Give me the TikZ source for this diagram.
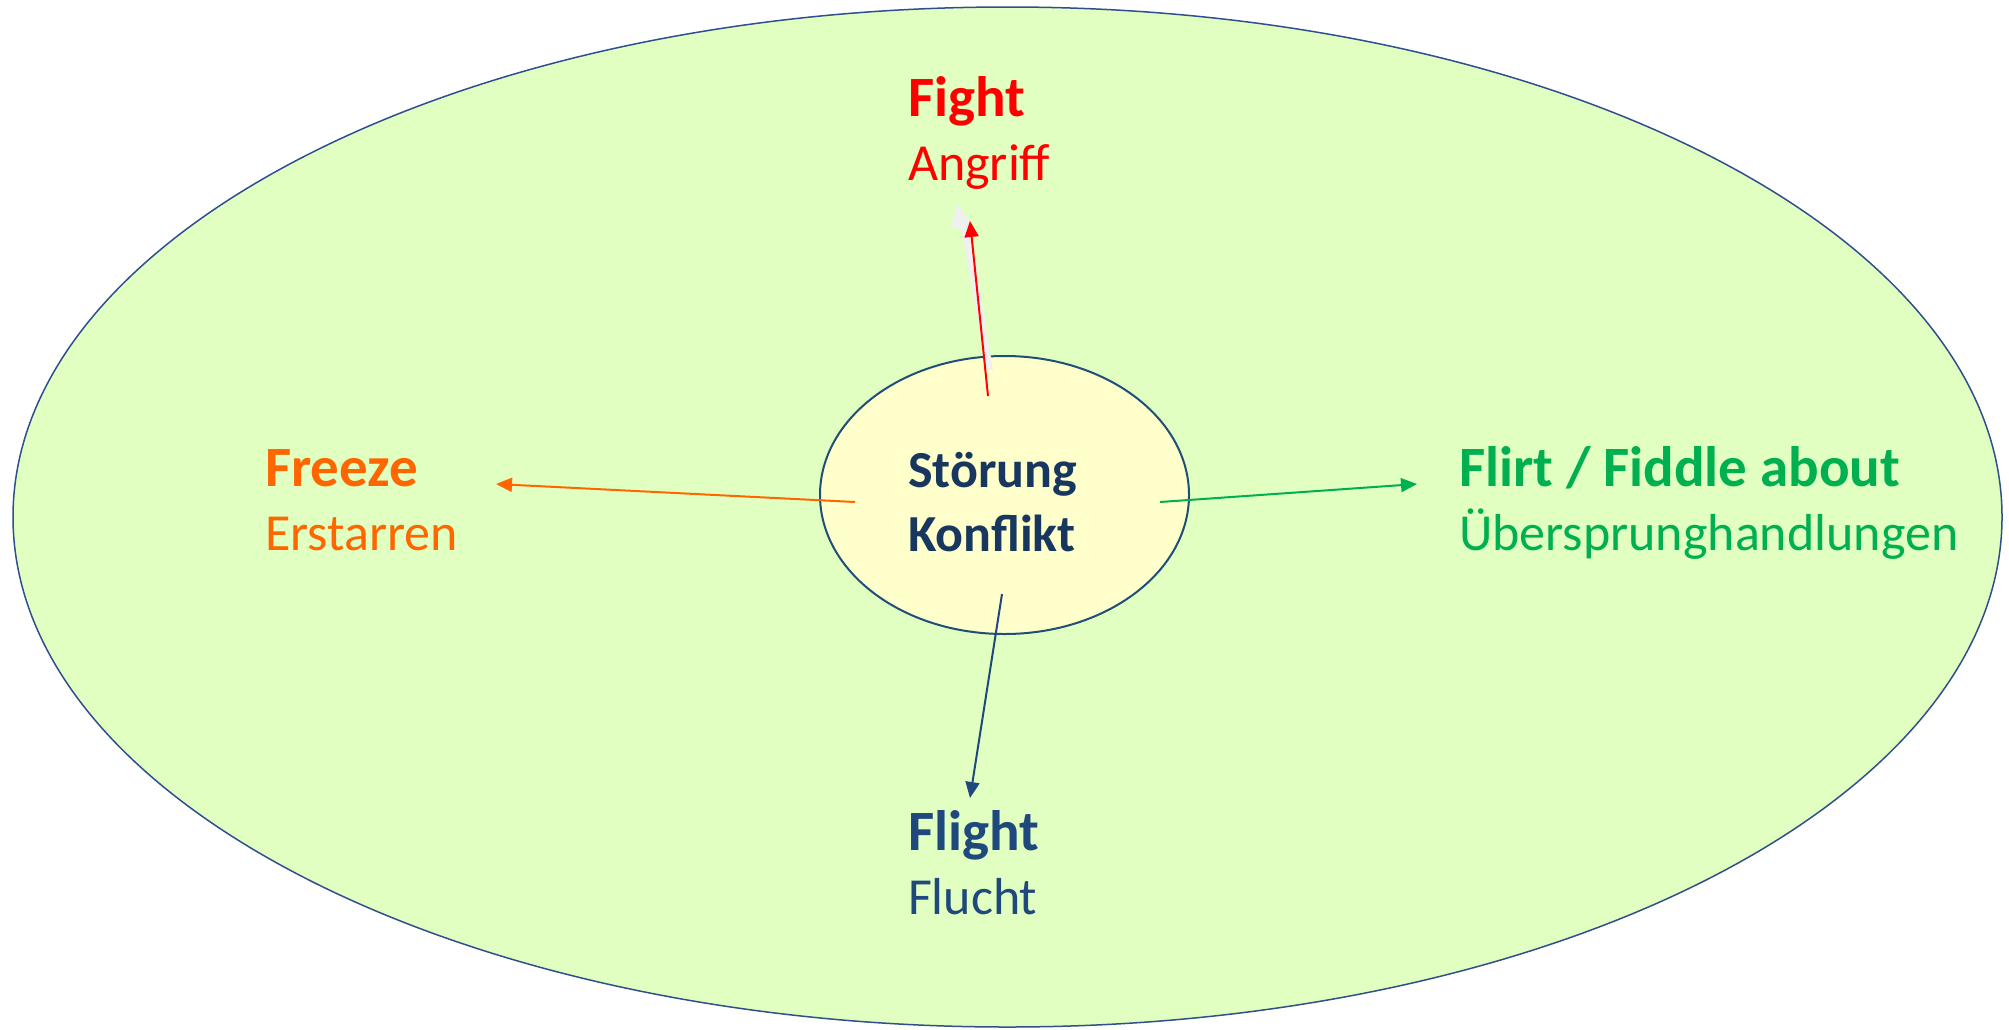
\documentclass[tikz,border=0pt]{standalone}
\usepackage{fontspec}
\setmainfont{Carlito}
\usetikzlibrary{arrows.meta,shapes.geometric}
\definecolor{outerfill}{HTML}{E0FFC0}
\definecolor{outerline}{HTML}{2F4F8F}
\definecolor{innerfill}{HTML}{FFFFCC}
\definecolor{innerline}{HTML}{1F4E79}
\definecolor{cfight}{HTML}{FF0000}
\definecolor{cfreeze}{HTML}{FF6600}
\definecolor{cflirt}{HTML}{00B050}
\definecolor{cflight}{HTML}{1F497D}
\definecolor{ccenter}{HTML}{17375E}
\definecolor{shadowgray}{HTML}{F0F0F0}
\tikzset{
  lbl/.style={anchor=base west, inner sep=0pt, outer sep=0pt, font=\fontsize{52}{62}\selectfont},
  lblb/.style={lbl, font=\fontsize{57}{66}\selectfont\bfseries},
  ctr/.style={anchor=base west, inner sep=0pt, outer sep=0pt, font=\fontsize{52}{62}\selectfont\bfseries, text=ccenter},
  arr/.style={line width=2pt, -{Triangle[length=16pt,width=14pt]}}
}
\begin{document}
\begin{tikzpicture}[x=1pt,y=-1pt]
\useasboundingbox (0,0) rectangle (2009,1029);
% outer ellipse
\node[draw=outerline, fill=outerfill, line width=1.5pt, ellipse, inner sep=0pt,
  minimum width=1989pt, minimum height=1020pt] (outer) at (1007.5,517) {};
% inner ellipse
\node[draw=innerline, fill=innerfill, line width=2pt, ellipse, inner sep=0pt,
  minimum width=369pt, minimum height=278pt] (inner) at (1004.5,495) {};
% center text
\node[ctr] (stoerung) at (908,487) {Störung};
\node[ctr] (konflikt) at (908,551) {Konflikt};
% labels
\node[lblb, text=cfight] (fight) at (908,116) {Fight};
\node[lbl, text=cfight] (angriff) at (908,180) {Angriff};
\node[lblb, text=cfreeze] (freeze) at (265,486) {Freeze};
\node[lbl, text=cfreeze] (erstarren) at (265,550) {Erstarren};
\node[lblb, text=cflirt] (flirt) at (1459,486) {Flirt / Fiddle about};
\node[lbl, text=cflirt] (ueber) at (1459,550) {Übersprunghandlungen};
\node[lblb, text=cflight] (flight) at (908,850) {Flight};
\node[lbl, text=cflight] (flucht) at (908,914) {Flucht};
% connector endpoints
\coordinate (fightS) at (988,396);
\coordinate (fightE) at (970,221);
\coordinate (freezeS) at (855,502);
\coordinate (freezeE) at (496,484);
\coordinate (flirtS) at (1160,502);
\coordinate (flirtE) at (1417,484);
\coordinate (flightS) at (1002,594);
\coordinate (flightE) at (970,798);
% gray shadow arrow
\fill[shadowgray] (957,203) -- (969,221) -- (993,370) -- (987,370) -- (961,228) -- (951,228) -- cycle;
% arrows
\draw[arr, cfight] (fightS) -- (fightE);
\draw[arr, cfreeze] (freezeS) -- (freezeE);
\draw[arr, cflirt] (flirtS) -- (flirtE);
\draw[arr, cflight] (flightS) -- (flightE);
\end{tikzpicture}
\end{document}
